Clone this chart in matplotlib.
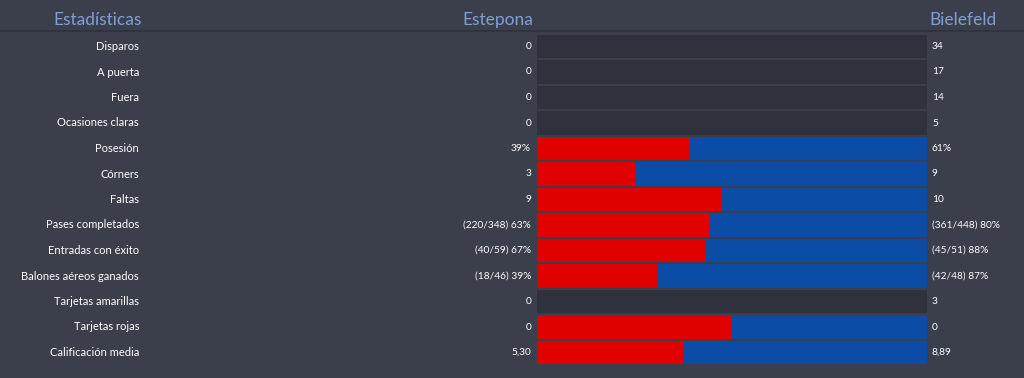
import numpy as np
import matplotlib.pyplot as plt

plt.rcParams['font.family'] = ['Lato', 'DejaVu Sans']

stats = ['Disparos', 'A puerta', 'Fuera', 'Ocasiones claras', 'Posesión', 'Córners',
         'Faltas', 'Pases completados', 'Entradas con éxito', 'Balones aéreos ganados',
         'Tarjetas amarillas', 'Tarjetas rojas', 'Calificación media']
home_vals = [0, 0, 0, 0, 39, 3, 9, 63, 67, 39, 0, 0, 5.30]
away_vals = [34, 17, 14, 5, 61, 9, 10, 80, 88, 87, 3, 0, 8.89]
home_text = ['0', '0', '0', '0', '39%', '3', '9', '(220/348) 63%', '(40/59) 67%',
             '(18/46) 39%', '0', '0', '5,30']
away_text = ['34', '17', '14', '5', '61%', '9', '10', '(361/448) 80%', '(45/51) 88%',
             '(42/48) 87%', '3', '0', '8,89']
# rows where the game shows the split bar (others show an empty dark bar)
filled = [False, False, False, False, True, True, True, True, True, True, False, True, True]

bg = '#3b3e4b'
red = '#e00000'
blue = '#0a4ca6'
empty = '#2f323c'
head = '#7f9fd6'

fig = plt.figure(figsize=(10.24, 3.78), dpi=100, facecolor=bg)
ax = fig.add_axes([0, 0, 1, 1])
ax.set_facecolor(bg)
ax.set_xlim(0, 1024)
ax.set_ylim(378, 0)
ax.axis('off')

bar_left, bar_w = 537, 390
y = 46.5 + np.arange(len(stats)) * 25.5

h = np.array(home_vals, dtype=float)
a = np.array(away_vals, dtype=float)
tot = h + a
frac = np.where(tot > 0, h / np.where(tot > 0, tot, 1), 0.5)
fill = np.array(filled)

ax.barh(y[~fill], bar_w, left=bar_left, height=23.5, color=empty)
ax.barh(y[fill], frac[fill] * bar_w, left=bar_left, height=23.5, color=red)
ax.barh(y[fill], (1 - frac[fill]) * bar_w, left=bar_left + frac[fill] * bar_w,
        height=23.5, color=blue)

ax.axhline(30.5, color='#30333e', lw=1.2)

for yi, s, ht, at in zip(y, stats, home_text, away_text):
    ax.text(139, yi, s, ha='right', va='center', color='white', fontsize=8)
    ax.text(531, yi, ht, ha='right', va='center', color='white', fontsize=7.3)
    ax.text(932, yi, at, ha='left', va='center', color='white', fontsize=7.3)

ax.text(98, 20, 'Estadísticas', ha='center', va='center', color=head, fontsize=12.5)
ax.text(533, 20, 'Estepona', ha='right', va='center', color=head, fontsize=12.5)
ax.text(929, 20, 'Bielefeld', ha='left', va='center', color=head, fontsize=12.5)

fig.savefig('out.png', dpi=100, facecolor=bg)
